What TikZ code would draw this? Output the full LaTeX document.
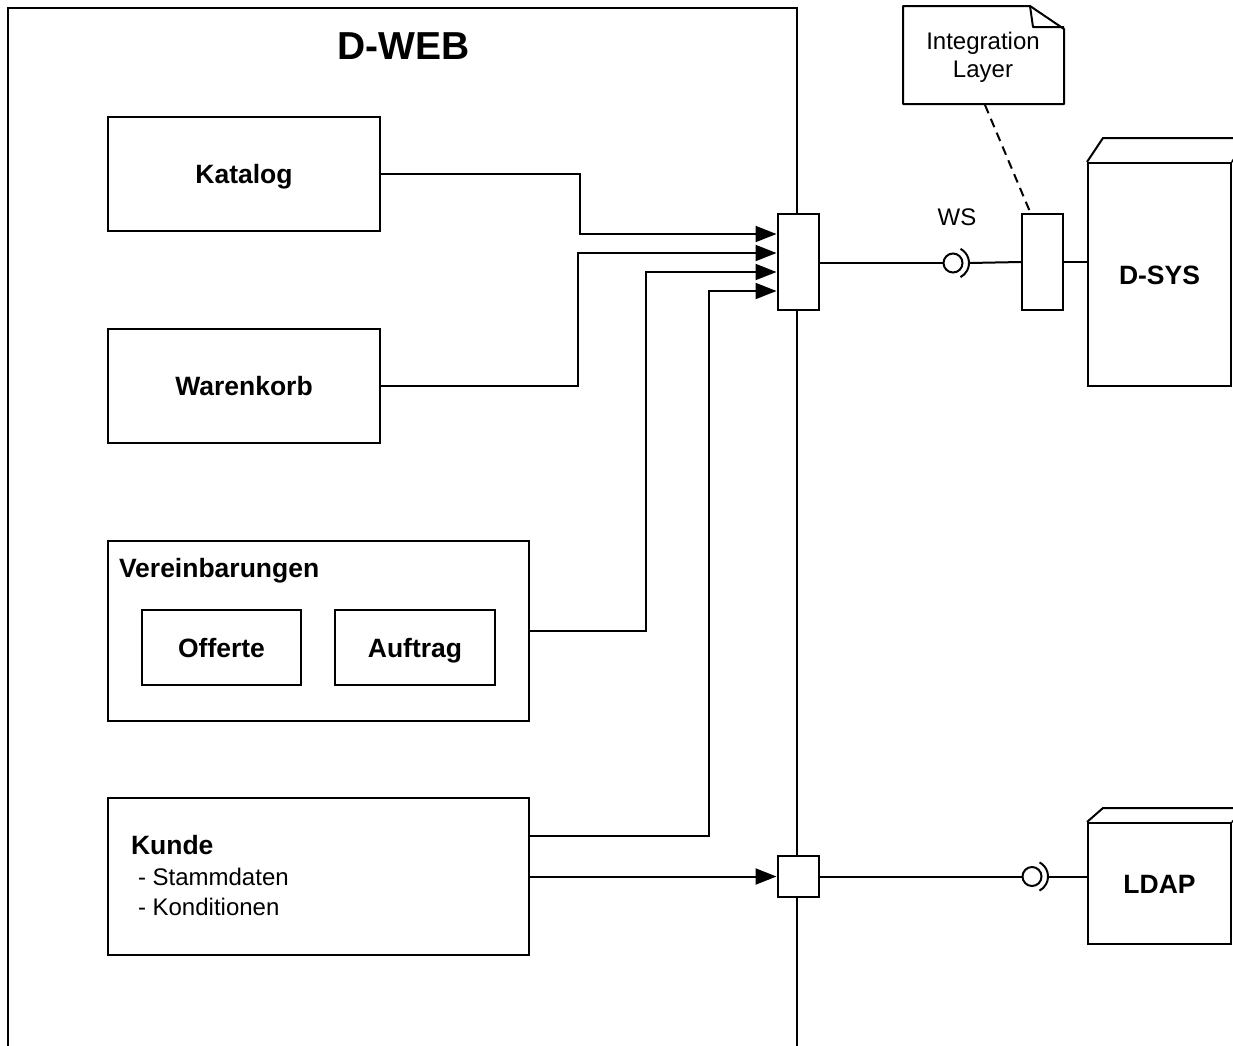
\documentclass[tikz,border=0pt]{standalone}
\usepackage{fontspec}
\setmainfont{Liberation Sans}
\usetikzlibrary{arrows.meta}

\begin{document}
\begin{tikzpicture}[x=1pt, y=-1pt, line width=2pt,
  comp/.style={draw, fill=white, inner sep=0pt},
  blabel/.style={font=\fontsize{26.5}{30}\selectfont\bfseries, inner sep=0pt,
    text height=19pt, text depth=0pt},
  rlabel/.style={font=\fontsize{24}{28}\selectfont, inner sep=0pt,
    text height=17.2pt, text depth=0pt},
  port/.style={draw, fill=white, inner sep=0pt, minimum width=41pt},
  node3d/.style={draw, fill=white, inner sep=0pt, minimum width=143pt},
  ball/.style={draw, fill=white, circle, inner sep=0pt, minimum size=19pt},
  arr/.style={-{Triangle[length=21pt,width=16pt]}},
  note link/.style={dash pattern=on 9pt off 6pt},
]
\useasboundingbox (0,0) rectangle (1233,1045);
\clip (0,0) rectangle (1233,1045);

% D-WEB subsystem frame (open at the bottom)
\draw (8,1046) -- (8,8) -- (797,8) -- (797,1046);
\node[font=\fontsize{39}{43}\selectfont\bfseries, inner sep=0pt,
  text height=27pt, text depth=0pt] (title) at (403.5,46) {D-WEB};

% components
\node[comp, blabel, minimum width=272pt, minimum height=114pt] (katalog) at (244,174) {Katalog};
\node[comp, blabel, minimum width=272pt, minimum height=114pt] (warenkorb) at (244,386) {Warenkorb};
\node[comp, minimum width=421pt, minimum height=180pt] (vereinb) at (318.5,631) {};
\node[blabel, anchor=base west, text height=] (vereinb-title) at (118,577) {Vereinbarungen};
\node[comp, blabel, minimum width=159pt, minimum height=75pt] (offerte) at (221.5,647.5) {Offerte};
\node[comp, blabel, minimum width=160pt, minimum height=75pt] (auftrag) at (415,647.5) {Auftrag};
\node[comp, minimum width=421pt, minimum height=157pt] (kunde) at (318.5,876.5) {};
\node[blabel, anchor=base west, text height=] (kunde-title) at (130,854) {Kunde};
\node[rlabel, anchor=base west, text height=] (kunde-l1) at (130,885) {\hspace*{7pt}- Stammdaten};
\node[rlabel, anchor=base west, text height=] (kunde-l2) at (130,915) {\hspace*{7pt}- Konditionen};

% ports on the subsystem boundary
\node[port, minimum height=96pt] (port1) at (798,262) {};
\node[port, minimum height=41pt] (port2) at (798,876.5) {};

% internal connectors
\draw[arr] (katalog.east) -- (580,174) |- (port1.west |- 0,234);
\draw[arr] (warenkorb.east) -- (578,386) |- (port1.west |- 0,253);
\draw[arr] (vereinb.east) -- (646,631) |- (port1.west |- 0,272);
\draw[arr] (kunde.east |- 0,836) -- (709,836) |- (port1.west |- 0,291);
\draw[arr] (kunde.east) -- (port2.west);

% integration layer note
\node[minimum width=159pt, minimum height=96pt, inner sep=0pt] (note) at (983.5,55) {};
\draw[fill=white, line join=round] (note.south west) -- (note.north west)
  -- ([xshift=-34pt]note.north east) -- ([yshift=-23pt]note.north east)
  -- (note.south east) -- cycle;
\draw[line join=round] ([xshift=-34pt]note.north east) -- ([xshift=-31pt,yshift=-21pt]note.north east)
  -- ([yshift=-21pt]note.north east);
\node[rlabel] (note-l1) at (983,41) {Integration};
\node[rlabel] (note-l2) at (983,69) {Layer};

% D-SYS node with its port and WS interface
\node[port, minimum height=96pt] (iport) at (1042.5,262) {};
\node[node3d, blabel, minimum height=223pt] (dsys) at (1159.5,274.5) {D-SYS};
\draw (dsys.north west) -- ++(16,-24) -- ([shift={(16,-24)}]dsys.north east)
  -- ([shift={(16,-24)}]dsys.south east);
\draw (dsys.north east) -- ++(16,-24);

\node[ball] (ws) at (953,263) {};
\draw ([shift={(-62:16)}]ws.center) arc[start angle=-62, end angle=62, radius=16];
\coordinate (ws-socket) at (969,263);
\node[rlabel] (ws-label) at (957,217) {WS};
\draw (port1.east |- ws) -- (ws.west);
\draw (ws-socket) -- (iport.west);
\draw (iport.east) -- (dsys.west |- iport.east);
\draw[note link] (985,105) -- ([xshift=-12pt]iport.north);

% LDAP node and interface
\node[node3d, blabel, minimum height=121pt] (ldap) at (1159.5,883.5) {LDAP};
\draw (ldap.north west) -- ++(16,-14) -- ([shift={(16,-14)}]ldap.north east)
  -- ([shift={(16,-14)}]ldap.south east);
\draw (ldap.north east) -- ++(16,-14);

\node[ball] (lball) at (1032,876.5) {};
\draw ([shift={(-62:16)}]lball.center) arc[start angle=-62, end angle=62, radius=16];
\coordinate (l-socket) at (1048,876.5);
\draw (port2.east) -- (lball.west);
\draw (l-socket) -- (ldap.west |- l-socket);
\end{tikzpicture}
\end{document}
